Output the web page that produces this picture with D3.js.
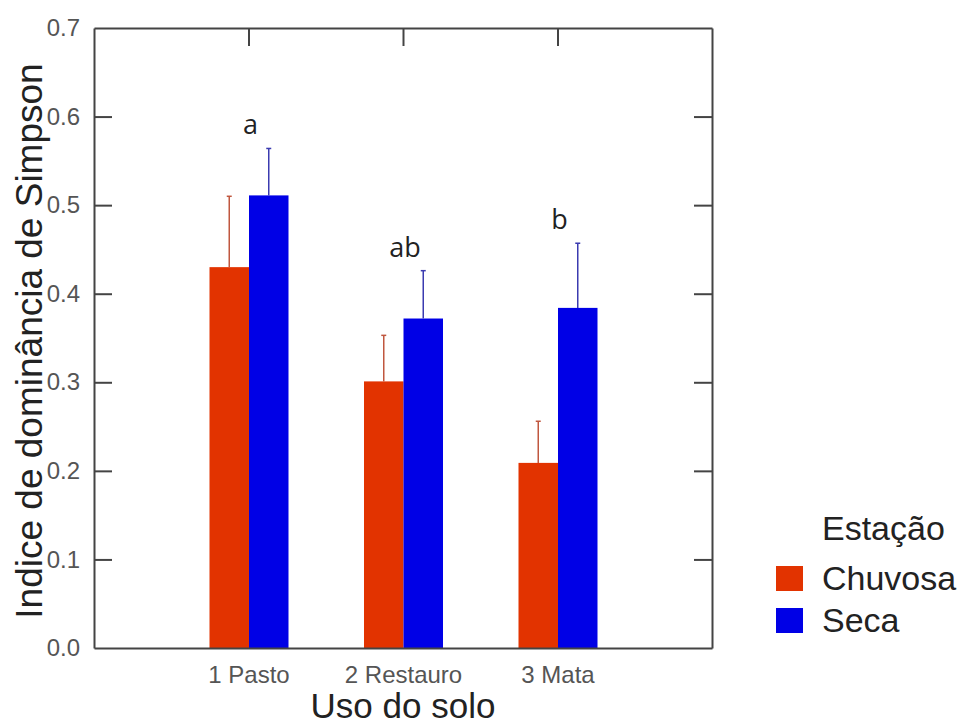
<!DOCTYPE html>
<html>
<head>
<meta charset="utf-8">
<script src="https://cdn.jsdelivr.net/npm/d3@7"></script>
<style>
  body { margin: 0; background: #fff; }
  text { font-family: "Liberation Sans", Arial, sans-serif; }
</style>
</head>
<body>
<div id="chart"></div>
<script>
const categories = ["1 Pasto", "2 Restauro", "3 Mata"];
const seasons = ["Chuvosa", "Seca"];
const chuvosa = [0.430, 0.301, 0.209];
const chuvosaErr = [0.080, 0.052, 0.047];
const seca = [0.511, 0.372, 0.384];
const secaErr = [0.053, 0.054, 0.073];
const letters = ["a", "ab", "b"];
const yTicks = [0.0, 0.1, 0.2, 0.3, 0.4, 0.5, 0.6, 0.7];

const colors = { Chuvosa: "#e23300", Seca: "#0000e6" };
const errColors = { Chuvosa: "#c0573f", Seca: "#3b3bb0" };

const margin = { top: 28, right: 254, bottom: 76, left: 94 };
const W = 966, H = 724;
const width = W - margin.left - margin.right;
const height = H - margin.top - margin.bottom;

const svg = d3.select("#chart").append("svg")
  .attr("width", W)
  .attr("height", H);

const g = svg.append("g")
  .attr("transform", "translate(" + margin.left + "," + margin.top + ")");

const x = d3.scalePoint().domain(categories).range([0, width]).padding(1);
const xSub = d3.scaleBand().domain(seasons).range([-39, 40]).padding(0);
const y = d3.scaleLinear().domain([0, 0.7]).range([height, 0]);

const rows = [];
categories.forEach((c, i) => {
  rows.push({ cat: c, season: "Chuvosa", value: chuvosa[i], err: chuvosaErr[i] });
  rows.push({ cat: c, season: "Seca", value: seca[i], err: secaErr[i] });
});

// bars
g.selectAll(".bar")
  .data(rows)
  .enter().append("rect")
  .attr("class", "bar")
  .attr("x", d => x(d.cat) + xSub(d.season))
  .attr("y", d => y(d.value))
  .attr("width", xSub.bandwidth())
  .attr("height", d => height - y(d.value))
  .attr("fill", d => colors[d.season]);

// error bars (upper only)
const eb = g.selectAll(".err")
  .data(rows)
  .enter().append("g")
  .attr("class", "err")
  .attr("stroke", d => errColors[d.season])
  .attr("stroke-width", 1.5);

const mid = d => x(d.cat) + xSub(d.season) + xSub.bandwidth() / 2;
eb.append("line")
  .attr("x1", mid)
  .attr("x2", mid)
  .attr("y1", d => y(d.value))
  .attr("y2", d => y(d.value + d.err));

eb.append("line")
  .attr("x1", d => mid(d) - 2.5)
  .attr("x2", d => mid(d) + 2.5)
  .attr("y1", d => y(d.value + d.err))
  .attr("y2", d => y(d.value + d.err));

// significance letters
g.selectAll(".letter")
  .data(categories)
  .enter().append("text")
  .attr("class", "letter")
  .attr("x", c => x(c) + 2)
  .attr("y", (c, i) => y(Math.max(chuvosa[i] + chuvosaErr[i], seca[i] + secaErr[i])) - 14)
  .attr("text-anchor", "middle")
  .style("font-family", "'Open Sans', sans-serif")
  .style("font-size", "27px")
  .attr("fill", "#222")
  .text((c, i) => letters[i]);

// frame
const axisColor = "#444";
const leftAxis = g.append("g")
  .call(d3.axisLeft(y).tickValues(yTicks).tickFormat(d3.format(".1f")).tickSizeInner(-18).tickSizeOuter(0).tickPadding(14));
const rightAxis = g.append("g")
  .attr("transform", "translate(" + width + ",0)")
  .call(d3.axisRight(y).tickValues(yTicks).tickFormat("").tickSizeInner(-18).tickSizeOuter(0));
const topAxis = g.append("g")
  .call(d3.axisTop(x).tickFormat("").tickSizeInner(-18).tickSizeOuter(0));
const bottomAxis = g.append("g")
  .attr("transform", "translate(0," + height + ")")
  .call(d3.axisBottom(x).tickSizeInner(0).tickSizeOuter(0).tickPadding(18));

[leftAxis, rightAxis, topAxis, bottomAxis].forEach(a => {
  a.selectAll(".domain").attr("stroke", axisColor).attr("stroke-width", 2);
  a.selectAll(".tick line").attr("stroke", axisColor).attr("stroke-width", 2);
  a.selectAll(".tick text")
    .attr("fill", "#555")
    .style("font-family", "'Liberation Sans', Arial, sans-serif")
    .style("font-size", "24px");
});
leftAxis.selectAll(".tick").filter(d => d === 0 || d === 0.7).select("line").remove();
rightAxis.selectAll(".tick").filter(d => d === 0 || d === 0.7).select("line").remove();

// axis titles
g.append("text")
  .attr("transform", "translate(" + (-52) + "," + (height / 2 + 3) + ") rotate(-90)")
  .attr("text-anchor", "middle")
  .style("font-size", "37px")
  .attr("fill", "#222")
  .text("Indice de dominância de Simpson");

g.append("text")
  .attr("x", width / 2)
  .attr("y", height + 70)
  .attr("text-anchor", "middle")
  .style("font-size", "35px")
  .attr("fill", "#222")
  .text("Uso do solo");

// legend
const legend = svg.append("g").attr("transform", "translate(776,0)");
legend.append("text")
  .attr("x", 46)
  .attr("y", 540)
  .style("font-size", "34px")
  .attr("fill", "#222")
  .text("Estação");

const li = legend.selectAll(".li")
  .data(seasons)
  .enter().append("g")
  .attr("class", "li")
  .attr("transform", (d, i) => "translate(0," + (566 + i * 42) + ")");
li.append("rect")
  .attr("width", 27)
  .attr("height", 25)
  .attr("fill", d => colors[d]);
li.append("text")
  .attr("x", 46)
  .attr("y", 24)
  .style("font-size", "34px")
  .attr("fill", "#222")
  .text(d => d);
</script>
</body>
</html>
